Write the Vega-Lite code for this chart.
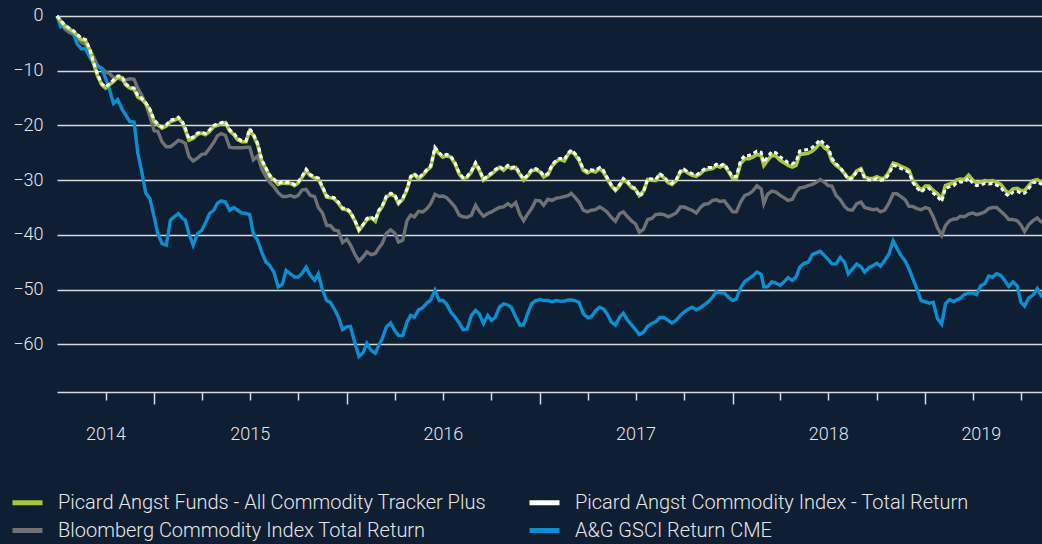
{
  "$schema": "https://vega.github.io/schema/vega-lite/v6.json",
  "width": 985,
  "height": 392,
  "autosize": {"type": "none"},
  "padding": {"left": 57, "top": 0, "right": 0, "bottom": 152},
  "background": "#0e1e33",
  "config": {"view": {"stroke": null}, "font": "Roboto"},
  "data": {"values": [
    {"d":"2014-07-01","g":0,"w":0,"k":0,"b":0},
    {"d":"2014-07-08","g":-1.0,"w":-0.8,"k":-1.3,"b":-2.0},
    {"d":"2014-07-16","g":-1.9,"w":-1.7,"k":-2.4,"b":-1.7},
    {"d":"2014-07-24","g":-2.4,"w":-2.2,"k":-3.0,"b":-2.3},
    {"d":"2014-08-01","g":-2.9,"w":-2.7,"k":-3.4,"b":-3.2},
    {"d":"2014-08-08","g":-3.5,"w":-3.3,"k":-4.1,"b":-5.1},
    {"d":"2014-08-16","g":-4.3,"w":-4.1,"k":-4.8,"b":-6.0},
    {"d":"2014-08-24","g":-4.5,"w":-4.3,"k":-5.3,"b":-6.0},
    {"d":"2014-09-01","g":-6.2,"w":-6.0,"k":-6.1,"b":-7.5},
    {"d":"2014-09-08","g":-8.6,"w":-8.4,"k":-7.4,"b":-8.6},
    {"d":"2014-09-16","g":-11.0,"w":-10.7,"k":-9.1,"b":-9.3},
    {"d":"2014-09-24","g":-12.6,"w":-12.4,"k":-9.6,"b":-9.6},
    {"d":"2014-10-01","g":-13.2,"w":-13.0,"k":-10.2,"b":-11.4},
    {"d":"2014-10-08","g":-12.6,"w":-12.4,"k":-10.5,"b":-13.3},
    {"d":"2014-10-16","g":-12.0,"w":-11.7,"k":-11.3,"b":-16.0},
    {"d":"2014-10-24","g":-11.2,"w":-11.0,"k":-11.3,"b":-15.3},
    {"d":"2014-11-01","g":-11.3,"w":-11.0,"k":-11.7,"b":-17.0},
    {"d":"2014-11-08","g":-12.6,"w":-12.4,"k":-11.7,"b":-18.1},
    {"d":"2014-11-16","g":-13.2,"w":-13.0,"k":-11.5,"b":-19.3},
    {"d":"2014-11-24","g":-13.4,"w":-13.2,"k":-11.6,"b":-19.4},
    {"d":"2014-12-01","g":-14.8,"w":-14.5,"k":-13.2,"b":-25.0},
    {"d":"2014-12-08","g":-15.2,"w":-15.0,"k":-14.4,"b":-28.2},
    {"d":"2014-12-16","g":-16.0,"w":-15.8,"k":-16.0,"b":-32.3},
    {"d":"2014-12-24","g":-17.2,"w":-17.0,"k":-18.4,"b":-33.4},
    {"d":"2015-01-01","g":-19.3,"w":-19.0,"k":-21.0,"b":-36.7},
    {"d":"2015-01-08","g":-19.9,"w":-19.7,"k":-21.1,"b":-39.8},
    {"d":"2015-01-16","g":-20.5,"w":-20.3,"k":-23.0,"b":-41.6},
    {"d":"2015-01-24","g":-20.1,"w":-19.9,"k":-23.9,"b":-41.9},
    {"d":"2015-02-01","g":-19.3,"w":-19.0,"k":-23.9,"b":-37.3},
    {"d":"2015-02-08","g":-19.1,"w":-18.9,"k":-23.4,"b":-36.7},
    {"d":"2015-02-16","g":-18.7,"w":-18.5,"k":-22.7,"b":-36.1},
    {"d":"2015-02-24","g":-19.6,"w":-19.4,"k":-23.0,"b":-37.0},
    {"d":"2015-03-01","g":-20.8,"w":-20.5,"k":-23.3,"b":-37.3},
    {"d":"2015-03-08","g":-22.7,"w":-22.5,"k":-25.7,"b":-39.8},
    {"d":"2015-03-16","g":-22.4,"w":-22.1,"k":-26.5,"b":-41.9},
    {"d":"2015-03-24","g":-21.6,"w":-21.4,"k":-26.0,"b":-39.8},
    {"d":"2015-04-01","g":-21.4,"w":-21.2,"k":-25.3,"b":-39.2},
    {"d":"2015-04-08","g":-21.7,"w":-21.5,"k":-25.2,"b":-37.9},
    {"d":"2015-04-16","g":-21.1,"w":-20.8,"k":-24.2,"b":-36.1},
    {"d":"2015-04-24","g":-20.2,"w":-20.0,"k":-23.1,"b":-35.5},
    {"d":"2015-05-01","g":-20.0,"w":-19.7,"k":-21.9,"b":-34.2},
    {"d":"2015-05-08","g":-19.7,"w":-19.5,"k":-21.5,"b":-33.8},
    {"d":"2015-05-16","g":-19.5,"w":-19.3,"k":-21.8,"b":-34.0},
    {"d":"2015-05-24","g":-21.0,"w":-20.8,"k":-24.0,"b":-35.5},
    {"d":"2015-06-01","g":-21.7,"w":-21.4,"k":-24.1,"b":-35.0},
    {"d":"2015-06-08","g":-22.6,"w":-22.4,"k":-24.1,"b":-35.5},
    {"d":"2015-06-16","g":-23.0,"w":-22.8,"k":-24.1,"b":-36.0},
    {"d":"2015-06-24","g":-23.0,"w":-22.8,"k":-24.0,"b":-36.1},
    {"d":"2015-07-01","g":-21.0,"w":-20.6,"k":-24.0,"b":-36.3},
    {"d":"2015-07-08","g":-21.8,"w":-21.6,"k":-26.3,"b":-39.8},
    {"d":"2015-07-16","g":-23.5,"w":-23.2,"k":-25.6,"b":-41.0},
    {"d":"2015-07-24","g":-26.5,"w":-26.3,"k":-28.0,"b":-43.2},
    {"d":"2015-08-01","g":-28.0,"w":-27.8,"k":-29.4,"b":-45.0},
    {"d":"2015-08-08","g":-29.3,"w":-29.1,"k":-30.4,"b":-45.6},
    {"d":"2015-08-16","g":-30.0,"w":-29.8,"k":-31.2,"b":-46.8},
    {"d":"2015-08-24","g":-30.8,"w":-30.6,"k":-32.3,"b":-49.5},
    {"d":"2015-09-01","g":-30.5,"w":-30.3,"k":-33.0,"b":-49.0},
    {"d":"2015-09-08","g":-30.6,"w":-30.4,"k":-33.0,"b":-46.5},
    {"d":"2015-09-16","g":-30.6,"w":-30.4,"k":-32.8,"b":-47.1},
    {"d":"2015-09-24","g":-31.0,"w":-30.8,"k":-33.1,"b":-47.7},
    {"d":"2015-10-01","g":-30.5,"w":-30.3,"k":-32.8,"b":-47.7},
    {"d":"2015-10-08","g":-29.5,"w":-29.3,"k":-31.8,"b":-47.1},
    {"d":"2015-10-16","g":-28.3,"w":-28.0,"k":-31.7,"b":-45.9},
    {"d":"2015-10-24","g":-29.2,"w":-29.0,"k":-32.8,"b":-47.4},
    {"d":"2015-11-01","g":-29.6,"w":-29.4,"k":-33.0,"b":-48.3},
    {"d":"2015-11-08","g":-29.8,"w":-29.6,"k":-35.0,"b":-47.1},
    {"d":"2015-11-16","g":-31.4,"w":-31.2,"k":-36.0,"b":-50.1},
    {"d":"2015-11-24","g":-33.1,"w":-32.9,"k":-38.3,"b":-52.0},
    {"d":"2015-12-01","g":-33.2,"w":-33.0,"k":-38.3,"b":-52.3},
    {"d":"2015-12-08","g":-33.4,"w":-33.2,"k":-39.1,"b":-53.5},
    {"d":"2015-12-16","g":-34.2,"w":-34.0,"k":-39.3,"b":-55.0},
    {"d":"2015-12-24","g":-35.3,"w":-35.1,"k":-41.4,"b":-57.3},
    {"d":"2016-01-01","g":-35.4,"w":-35.2,"k":-40.8,"b":-56.8},
    {"d":"2016-01-08","g":-36.0,"w":-35.8,"k":-41.8,"b":-56.7},
    {"d":"2016-01-16","g":-37.4,"w":-37.3,"k":-43.5,"b":-59.6},
    {"d":"2016-01-24","g":-39.2,"w":-39.0,"k":-44.8,"b":-62.2},
    {"d":"2016-02-01","g":-38.2,"w":-38.1,"k":-44.0,"b":-61.5},
    {"d":"2016-02-08","g":-37.2,"w":-37.0,"k":-43.1,"b":-59.8},
    {"d":"2016-02-16","g":-36.9,"w":-36.7,"k":-43.6,"b":-61.1},
    {"d":"2016-02-24","g":-37.5,"w":-37.3,"k":-43.4,"b":-61.6},
    {"d":"2016-03-01","g":-35.8,"w":-35.6,"k":-42.5,"b":-60.3},
    {"d":"2016-03-08","g":-34.9,"w":-34.7,"k":-41.6,"b":-59.0},
    {"d":"2016-03-16","g":-33.1,"w":-32.9,"k":-39.7,"b":-56.8},
    {"d":"2016-03-24","g":-32.6,"w":-32.4,"k":-39.1,"b":-56.1},
    {"d":"2016-04-01","g":-32.9,"w":-32.7,"k":-39.7,"b":-57.5},
    {"d":"2016-04-08","g":-34.3,"w":-34.1,"k":-41.3,"b":-58.4},
    {"d":"2016-04-16","g":-33.5,"w":-33.3,"k":-41.0,"b":-58.4},
    {"d":"2016-04-24","g":-31.8,"w":-31.6,"k":-37.4,"b":-55.9},
    {"d":"2016-05-01","g":-29.5,"w":-29.3,"k":-36.4,"b":-54.7},
    {"d":"2016-05-08","g":-29.0,"w":-28.8,"k":-36.7,"b":-55.0},
    {"d":"2016-05-16","g":-29.8,"w":-29.6,"k":-35.7,"b":-53.7},
    {"d":"2016-05-24","g":-29.1,"w":-28.9,"k":-35.8,"b":-53.3},
    {"d":"2016-06-01","g":-28.2,"w":-28.0,"k":-35.2,"b":-52.4},
    {"d":"2016-06-08","g":-27.6,"w":-27.4,"k":-34.3,"b":-51.9},
    {"d":"2016-06-16","g":-24.3,"w":-24.0,"k":-32.6,"b":-50.1},
    {"d":"2016-06-24","g":-25.2,"w":-25.0,"k":-33.0,"b":-52.0},
    {"d":"2016-07-01","g":-25.8,"w":-25.6,"k":-32.9,"b":-52.0},
    {"d":"2016-07-08","g":-25.5,"w":-25.3,"k":-33.2,"b":-52.6},
    {"d":"2016-07-16","g":-25.8,"w":-25.6,"k":-34.0,"b":-54.1},
    {"d":"2016-07-24","g":-27.0,"w":-26.8,"k":-34.9,"b":-55.0},
    {"d":"2016-08-01","g":-28.9,"w":-28.7,"k":-36.4,"b":-56.1},
    {"d":"2016-08-08","g":-29.7,"w":-29.5,"k":-36.7,"b":-57.3},
    {"d":"2016-08-16","g":-29.5,"w":-29.3,"k":-36.8,"b":-57.2},
    {"d":"2016-08-24","g":-28.5,"w":-28.3,"k":-36.4,"b":-54.7},
    {"d":"2016-09-01","g":-27.0,"w":-26.8,"k":-34.6,"b":-53.8},
    {"d":"2016-09-08","g":-28.2,"w":-28.0,"k":-35.7,"b":-54.4},
    {"d":"2016-09-16","g":-30.0,"w":-29.8,"k":-36.6,"b":-56.2},
    {"d":"2016-09-24","g":-29.4,"w":-29.2,"k":-36.1,"b":-54.7},
    {"d":"2016-10-01","g":-28.9,"w":-28.7,"k":-35.8,"b":-55.6},
    {"d":"2016-10-08","g":-28.3,"w":-28.1,"k":-35.4,"b":-55.1},
    {"d":"2016-10-16","g":-27.7,"w":-27.5,"k":-35.0,"b":-53.2},
    {"d":"2016-10-24","g":-28.2,"w":-28.0,"k":-34.9,"b":-52.6},
    {"d":"2016-11-01","g":-27.5,"w":-27.3,"k":-34.3,"b":-52.8},
    {"d":"2016-11-08","g":-27.9,"w":-27.7,"k":-34.8,"b":-53.3},
    {"d":"2016-11-16","g":-27.7,"w":-27.5,"k":-34.1,"b":-55.0},
    {"d":"2016-11-24","g":-29.0,"w":-28.8,"k":-36.3,"b":-56.5},
    {"d":"2016-12-01","g":-30.0,"w":-29.8,"k":-37.4,"b":-56.4},
    {"d":"2016-12-08","g":-29.3,"w":-29.1,"k":-36.3,"b":-54.5},
    {"d":"2016-12-16","g":-28.3,"w":-28.1,"k":-35.2,"b":-52.6},
    {"d":"2016-12-24","g":-28.1,"w":-27.9,"k":-33.7,"b":-52.0},
    {"d":"2017-01-01","g":-28.5,"w":-28.3,"k":-33.8,"b":-51.8},
    {"d":"2017-01-08","g":-29.4,"w":-29.2,"k":-34.6,"b":-52.0},
    {"d":"2017-01-16","g":-29.0,"w":-28.8,"k":-33.5,"b":-52.0},
    {"d":"2017-01-24","g":-27.4,"w":-27.2,"k":-33.7,"b":-52.2},
    {"d":"2017-02-01","g":-26.6,"w":-26.3,"k":-33.3,"b":-52.0},
    {"d":"2017-02-08","g":-26.2,"w":-26.0,"k":-33.2,"b":-52.1},
    {"d":"2017-02-16","g":-26.5,"w":-26.2,"k":-33.0,"b":-52.1},
    {"d":"2017-02-24","g":-25.2,"w":-25.0,"k":-32.8,"b":-51.9},
    {"d":"2017-03-01","g":-24.8,"w":-24.5,"k":-32.4,"b":-51.9},
    {"d":"2017-03-08","g":-25.3,"w":-25.1,"k":-33.1,"b":-52.0},
    {"d":"2017-03-16","g":-26.4,"w":-26.1,"k":-34.0,"b":-52.3},
    {"d":"2017-03-24","g":-28.2,"w":-28.0,"k":-35.5,"b":-54.4},
    {"d":"2017-04-01","g":-28.7,"w":-28.4,"k":-35.8,"b":-55.1},
    {"d":"2017-04-08","g":-28.3,"w":-28.1,"k":-35.5,"b":-55.0},
    {"d":"2017-04-16","g":-28.5,"w":-28.2,"k":-35.4,"b":-53.9},
    {"d":"2017-04-24","g":-27.9,"w":-27.7,"k":-34.9,"b":-53.2},
    {"d":"2017-05-01","g":-28.5,"w":-28.2,"k":-35.3,"b":-53.5},
    {"d":"2017-05-08","g":-29.7,"w":-29.5,"k":-35.8,"b":-54.4},
    {"d":"2017-05-16","g":-31.0,"w":-30.8,"k":-36.8,"b":-55.9},
    {"d":"2017-05-24","g":-31.9,"w":-31.7,"k":-37.5,"b":-56.5},
    {"d":"2017-06-01","g":-31.0,"w":-30.8,"k":-36.1,"b":-55.0},
    {"d":"2017-06-08","g":-29.9,"w":-29.7,"k":-35.8,"b":-54.3},
    {"d":"2017-06-16","g":-30.5,"w":-30.3,"k":-36.7,"b":-55.6},
    {"d":"2017-06-24","g":-31.4,"w":-31.2,"k":-37.5,"b":-56.5},
    {"d":"2017-07-01","g":-31.7,"w":-31.5,"k":-38.0,"b":-57.3},
    {"d":"2017-07-08","g":-32.8,"w":-33.0,"k":-39.5,"b":-58.2},
    {"d":"2017-07-16","g":-32.0,"w":-32.3,"k":-39.0,"b":-57.8},
    {"d":"2017-07-24","g":-29.9,"w":-29.7,"k":-37.2,"b":-56.7},
    {"d":"2017-08-01","g":-30.0,"w":-29.8,"k":-37.0,"b":-56.2},
    {"d":"2017-08-08","g":-30.1,"w":-29.9,"k":-36.3,"b":-55.9},
    {"d":"2017-08-16","g":-29.0,"w":-28.8,"k":-36.2,"b":-55.1},
    {"d":"2017-08-24","g":-29.6,"w":-29.4,"k":-36.3,"b":-55.1},
    {"d":"2017-09-01","g":-30.5,"w":-30.3,"k":-36.7,"b":-55.6},
    {"d":"2017-09-08","g":-30.8,"w":-30.6,"k":-36.4,"b":-56.1},
    {"d":"2017-09-16","g":-30.1,"w":-29.9,"k":-36.0,"b":-55.6},
    {"d":"2017-09-24","g":-28.5,"w":-28.3,"k":-34.9,"b":-54.7},
    {"d":"2017-10-01","g":-28.2,"w":-28.0,"k":-34.9,"b":-54.1},
    {"d":"2017-10-08","g":-28.7,"w":-28.5,"k":-35.2,"b":-53.6},
    {"d":"2017-10-16","g":-29.1,"w":-28.8,"k":-35.5,"b":-53.2},
    {"d":"2017-10-24","g":-29.3,"w":-29.1,"k":-36.0,"b":-53.7},
    {"d":"2017-11-01","g":-28.8,"w":-28.5,"k":-35.0,"b":-53.3},
    {"d":"2017-11-08","g":-28.2,"w":-28.0,"k":-34.4,"b":-52.8},
    {"d":"2017-11-16","g":-28.0,"w":-27.7,"k":-34.3,"b":-52.2},
    {"d":"2017-11-24","g":-27.9,"w":-27.7,"k":-33.7,"b":-51.4},
    {"d":"2017-12-01","g":-27.4,"w":-27.1,"k":-33.6,"b":-50.4},
    {"d":"2017-12-08","g":-27.6,"w":-27.4,"k":-33.9,"b":-50.6},
    {"d":"2017-12-16","g":-27.3,"w":-27.0,"k":-33.8,"b":-50.6},
    {"d":"2017-12-24","g":-28.4,"w":-28.2,"k":-34.8,"b":-51.4},
    {"d":"2018-01-01","g":-29.7,"w":-29.4,"k":-35.8,"b":-52.0},
    {"d":"2018-01-08","g":-29.7,"w":-29.3,"k":-35.8,"b":-51.7},
    {"d":"2018-01-16","g":-27.0,"w":-26.4,"k":-34.0,"b":-49.7},
    {"d":"2018-01-24","g":-26.1,"w":-25.5,"k":-32.8,"b":-48.5},
    {"d":"2018-02-01","g":-26.1,"w":-25.5,"k":-32.5,"b":-48.0},
    {"d":"2018-02-08","g":-25.8,"w":-25.2,"k":-32.0,"b":-47.5},
    {"d":"2018-02-16","g":-25.3,"w":-24.7,"k":-31.0,"b":-46.8},
    {"d":"2018-02-24","g":-25.5,"w":-24.9,"k":-31.6,"b":-47.2},
    {"d":"2018-03-01","g":-27.3,"w":-26.8,"k":-34.3,"b":-49.5},
    {"d":"2018-03-08","g":-26.4,"w":-25.8,"k":-32.6,"b":-49.5},
    {"d":"2018-03-16","g":-25.5,"w":-24.8,"k":-32.0,"b":-48.6},
    {"d":"2018-03-24","g":-25.6,"w":-25.0,"k":-32.2,"b":-48.8},
    {"d":"2018-04-01","g":-26.4,"w":-25.8,"k":-32.8,"b":-49.2},
    {"d":"2018-04-08","g":-26.8,"w":-26.2,"k":-33.2,"b":-48.6},
    {"d":"2018-04-16","g":-27.3,"w":-26.8,"k":-33.7,"b":-47.8},
    {"d":"2018-04-24","g":-27.6,"w":-27.0,"k":-33.5,"b":-48.3},
    {"d":"2018-05-01","g":-27.3,"w":-26.6,"k":-32.2,"b":-47.7},
    {"d":"2018-05-08","g":-25.3,"w":-24.7,"k":-31.4,"b":-45.9},
    {"d":"2018-05-16","g":-25.2,"w":-24.5,"k":-31.3,"b":-45.2},
    {"d":"2018-05-24","g":-25.1,"w":-24.4,"k":-31.0,"b":-45.0},
    {"d":"2018-06-01","g":-24.7,"w":-24.0,"k":-30.8,"b":-43.6},
    {"d":"2018-06-08","g":-24.1,"w":-23.4,"k":-30.4,"b":-43.3},
    {"d":"2018-06-16","g":-23.2,"w":-22.6,"k":-29.9,"b":-43.0},
    {"d":"2018-06-24","g":-24.1,"w":-23.5,"k":-30.4,"b":-43.8},
    {"d":"2018-07-01","g":-24.6,"w":-24.0,"k":-31.0,"b":-44.5},
    {"d":"2018-07-08","g":-26.5,"w":-26.0,"k":-31.1,"b":-45.3},
    {"d":"2018-07-16","g":-27.3,"w":-27.0,"k":-32.8,"b":-45.3},
    {"d":"2018-07-24","g":-27.9,"w":-27.8,"k":-33.6,"b":-44.1},
    {"d":"2018-08-01","g":-28.8,"w":-28.8,"k":-34.8,"b":-45.0},
    {"d":"2018-08-08","g":-29.7,"w":-29.9,"k":-35.4,"b":-47.1},
    {"d":"2018-08-16","g":-29.4,"w":-29.6,"k":-35.5,"b":-46.2},
    {"d":"2018-08-24","g":-28.3,"w":-28.5,"k":-34.3,"b":-45.3},
    {"d":"2018-09-01","g":-27.9,"w":-28.1,"k":-34.0,"b":-45.8},
    {"d":"2018-09-08","g":-29.4,"w":-29.7,"k":-35.0,"b":-46.8},
    {"d":"2018-09-16","g":-29.7,"w":-30.0,"k":-35.2,"b":-46.0},
    {"d":"2018-09-24","g":-29.7,"w":-30.0,"k":-35.4,"b":-45.6},
    {"d":"2018-10-01","g":-29.4,"w":-29.7,"k":-35.3,"b":-45.2},
    {"d":"2018-10-08","g":-29.7,"w":-30.0,"k":-35.8,"b":-45.7},
    {"d":"2018-10-16","g":-29.6,"w":-29.9,"k":-35.5,"b":-44.7},
    {"d":"2018-10-24","g":-28.5,"w":-28.9,"k":-34.2,"b":-43.5},
    {"d":"2018-11-01","g":-26.9,"w":-27.3,"k":-32.5,"b":-41.1},
    {"d":"2018-11-08","g":-27.1,"w":-27.5,"k":-32.5,"b":-42.4},
    {"d":"2018-11-16","g":-27.5,"w":-27.9,"k":-33.0,"b":-43.8},
    {"d":"2018-11-24","g":-27.8,"w":-28.2,"k":-33.6,"b":-44.8},
    {"d":"2018-12-01","g":-28.2,"w":-28.6,"k":-34.8,"b":-46.2},
    {"d":"2018-12-08","g":-30.0,"w":-30.4,"k":-34.8,"b":-47.9},
    {"d":"2018-12-16","g":-31.0,"w":-31.4,"k":-35.2,"b":-49.9},
    {"d":"2018-12-24","g":-31.8,"w":-32.2,"k":-35.4,"b":-52.0},
    {"d":"2019-01-01","g":-31.1,"w":-31.5,"k":-35.0,"b":-52.2},
    {"d":"2019-01-08","g":-31.1,"w":-31.5,"k":-35.2,"b":-52.5},
    {"d":"2019-01-16","g":-31.9,"w":-32.4,"k":-36.7,"b":-52.3},
    {"d":"2019-01-24","g":-32.5,"w":-33.0,"k":-38.7,"b":-55.3},
    {"d":"2019-02-01","g":-33.4,"w":-33.9,"k":-40.1,"b":-56.3},
    {"d":"2019-02-08","g":-31.0,"w":-31.5,"k":-38.3,"b":-52.6},
    {"d":"2019-02-16","g":-30.7,"w":-31.2,"k":-37.4,"b":-51.8},
    {"d":"2019-02-24","g":-30.5,"w":-31.0,"k":-37.1,"b":-52.2},
    {"d":"2019-03-01","g":-30.0,"w":-30.5,"k":-37.1,"b":-51.9},
    {"d":"2019-03-08","g":-29.8,"w":-30.3,"k":-36.6,"b":-51.6},
    {"d":"2019-03-16","g":-29.9,"w":-30.4,"k":-36.7,"b":-50.9},
    {"d":"2019-03-24","g":-29.1,"w":-29.6,"k":-36.2,"b":-50.6},
    {"d":"2019-04-01","g":-30.0,"w":-30.6,"k":-36.0,"b":-50.6},
    {"d":"2019-04-08","g":-30.5,"w":-31.0,"k":-36.3,"b":-50.9},
    {"d":"2019-04-16","g":-30.4,"w":-30.9,"k":-36.1,"b":-49.3},
    {"d":"2019-04-24","g":-30.1,"w":-30.6,"k":-35.8,"b":-48.9},
    {"d":"2019-05-01","g":-30.2,"w":-30.7,"k":-35.2,"b":-47.5},
    {"d":"2019-05-08","g":-30.1,"w":-30.6,"k":-35.0,"b":-47.7},
    {"d":"2019-05-16","g":-30.4,"w":-30.9,"k":-35.0,"b":-47.1},
    {"d":"2019-05-24","g":-30.8,"w":-31.3,"k":-35.7,"b":-47.4},
    {"d":"2019-06-01","g":-31.8,"w":-32.4,"k":-36.4,"b":-48.4},
    {"d":"2019-06-08","g":-32.4,"w":-32.9,"k":-37.2,"b":-49.4},
    {"d":"2019-06-16","g":-31.6,"w":-32.2,"k":-37.2,"b":-48.6},
    {"d":"2019-06-24","g":-31.5,"w":-32.0,"k":-37.4,"b":-49.3},
    {"d":"2019-07-01","g":-31.9,"w":-32.4,"k":-38.2,"b":-52.3},
    {"d":"2019-07-08","g":-31.9,"w":-32.4,"k":-39.4,"b":-53.0},
    {"d":"2019-07-16","g":-31.0,"w":-31.5,"k":-38.1,"b":-51.5},
    {"d":"2019-07-24","g":-30.1,"w":-30.5,"k":-37.4,"b":-51.0},
    {"d":"2019-08-01","g":-29.9,"w":-30.3,"k":-36.9,"b":-49.8},
    {"d":"2019-08-10","g":-30.4,"w":-30.8,"k":-37.8,"b":-51.4}
  ]},
  "transform": [{"fold": ["g", "w", "k", "b"], "as": ["s", "v"]}],
  "encoding": {
    "x": {
      "field": "d", "type": "temporal",
      "scale": {"type": "utc", "domain": [{"year": 2014, "month": 7, "date": 1, "utc": true}, {"year": 2019, "month": 8, "date": 10, "utc": true}]},
      "axis": {
        "title": null,
        "values": [
          {"year": 2014, "month": 10, "date": 1, "utc": true},
          {"year": 2015, "month": 1, "date": 1, "utc": true},
          {"year": 2015, "month": 4, "date": 1, "utc": true},
          {"year": 2015, "month": 7, "date": 1, "utc": true},
          {"year": 2015, "month": 10, "date": 1, "utc": true},
          {"year": 2016, "month": 1, "date": 1, "utc": true},
          {"year": 2016, "month": 4, "date": 1, "utc": true},
          {"year": 2016, "month": 7, "date": 1, "utc": true},
          {"year": 2016, "month": 10, "date": 1, "utc": true},
          {"year": 2017, "month": 1, "date": 1, "utc": true},
          {"year": 2017, "month": 4, "date": 1, "utc": true},
          {"year": 2017, "month": 7, "date": 1, "utc": true},
          {"year": 2017, "month": 10, "date": 1, "utc": true},
          {"year": 2018, "month": 1, "date": 1, "utc": true},
          {"year": 2018, "month": 4, "date": 1, "utc": true},
          {"year": 2018, "month": 7, "date": 1, "utc": true},
          {"year": 2018, "month": 10, "date": 1, "utc": true},
          {"year": 2019, "month": 1, "date": 1, "utc": true},
          {"year": 2019, "month": 4, "date": 1, "utc": true},
          {"year": 2019, "month": 7, "date": 1, "utc": true}
        ],
        "domain": true, "domainColor": "#d9d9d9", "domainWidth": 1.5,
        "ticks": true, "tickColor": "#d9d9d9", "tickWidth": 1.5,
        "tickSize": {"condition": {"test": "utcmonth(datum.value) === 0", "value": 12}, "value": 8},
        "grid": false,
        "labelExpr": "((utcmonth(datum.value) === 6 && utcyear(datum.value) < 2019) || (utcyear(datum.value) === 2014) || (utcyear(datum.value) === 2019 && utcmonth(datum.value) === 3)) ? '' + utcyear(datum.value) : ''",
        "labelOffset": {"condition": {"test": "utcyear(datum.value) === 2019", "value": 8}, "value": 0},
        "labelPadding": 25,
        "labelColor": "#e6e6e6", "labelFontSize": 18, "labelFont": "Roboto", "labelFontWeight": 300,
        "labelOverlap": false, "labelFlush": false, "labelBound": false
      }
    },
    "y": {
      "field": "v", "type": "quantitative",
      "scale": {"domain": [-68.7, 2.9], "nice": false, "zero": false},
      "axis": {
        "title": null,
        "values": [0, -10, -20, -30, -40, -50, -60],
        "domain": false, "ticks": false,
        "grid": true, "gridColor": "#d9d9d9", "gridWidth": 1.5,
        "labelPadding": 14,
        "labelColor": "#e6e6e6", "labelFontSize": 18, "labelFont": "Roboto", "labelFontWeight": 300
      }
    },
    "color": {
      "field": "s", "type": "nominal",
      "scale": {"domain": ["g", "w", "k", "b"], "range": ["#a6c63c", "#ffffff", "#707173", "#0b8fd1"]},
      "legend": {
        "title": null,
        "orient": "none", "legendX": -47, "legendY": 485,
        "direction": "horizontal",
        "columns": 2, "columnPadding": 33, "rowPadding": 0,
        "symbolType": "stroke", "symbolSize": 900, "symbolStrokeWidth": 5,
        "labelFontSize": 20, "labelFont": "Roboto", "labelFontWeight": 300, "labelColor": "#e6e6e6",
        "labelOffset": 13, "labelLimit": 600,
        "labelExpr": "datum.label === 'g' ? 'Picard Angst Funds - All Commodity Tracker Plus' : datum.label === 'w' ? 'Picard Angst Commodity Index - Total Return' : datum.label === 'k' ? 'Bloomberg Commodity Index Total Return' : 'A&G GSCI Return CME'"
      }
    }
  },
  "layer": [
    {"transform": [{"filter": "datum.s === 'k'"}], "mark": {"type": "line", "strokeWidth": 3.4}},
    {"transform": [{"filter": "datum.s === 'b'"}], "mark": {"type": "line", "strokeWidth": 3.4}},
    {"transform": [{"filter": "datum.s === 'g'"}], "mark": {"type": "line", "strokeWidth": 3.6}},
    {"transform": [{"filter": "datum.s === 'w'"}], "mark": {"type": "line", "strokeWidth": 3, "strokeDash": [4, 3]}}
  ]
}
